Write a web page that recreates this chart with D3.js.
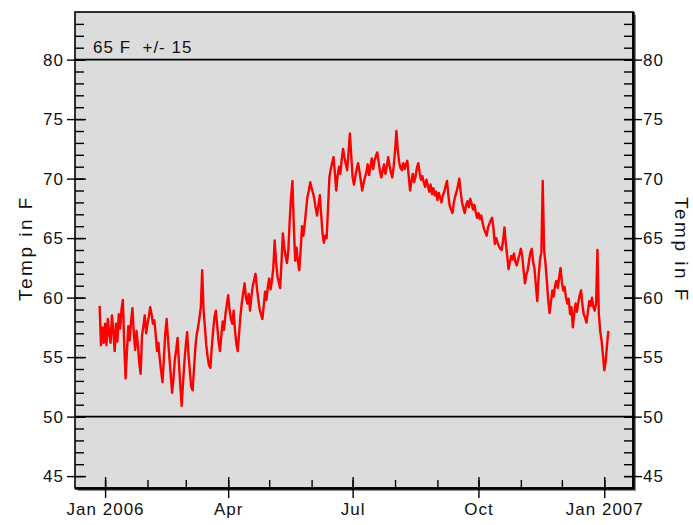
<!DOCTYPE html>
<html>
<head>
<meta charset="utf-8">
<script src="https://cdnjs.cloudflare.com/ajax/libs/d3/7.8.5/d3.min.js"></script>
<style>
  body { margin: 0; background: #fff; }
  text { font-family: "Liberation Sans", Arial, sans-serif; fill: #111; }
</style>
</head>
<body>
<div class="chart"></div>
<script>
// daily temperature readings, starting 28 Dec 2005
var startDate = new Date(2005, 11, 28);
var temps = [
  59.3, 56.0, 57.5, 56.2,
  // Jan
  57.8, 56.0, 58.2, 57.0, 56.2, 58.5, 57.2, 55.5, 57.8, 56.3, 58.6, 57.4, 59.0, 59.8, 56.0, 53.2,
  55.5, 57.6, 56.4, 58.0, 59.1, 57.0, 55.6, 57.2, 56.0, 54.5, 53.6, 56.8, 57.6, 58.5, 57.0,
  // Feb
  57.8, 58.4, 59.2, 58.6, 57.8, 58.1, 56.9, 55.5, 56.2, 54.8, 53.8, 52.9, 54.9, 57.0, 58.2, 56.5,
  55.0, 53.5, 52.0, 53.2, 54.8, 55.6, 56.6, 54.5, 52.6, 50.9, 52.8, 54.6,
  // Mar
  56.0, 57.1, 55.2, 53.8, 52.5, 52.2, 54.0, 55.8, 56.9, 57.5, 58.3, 59.2, 62.3, 59.0, 57.5, 56.0,
  55.0, 54.3, 54.1, 55.8, 57.2, 58.4, 58.9, 57.6, 56.3, 55.5, 56.8, 58.0, 57.3, 58.6, 59.4,
  // Apr
  60.2, 59.0, 58.2, 57.8, 58.9, 57.2, 56.1, 55.5, 57.0, 58.5, 59.6, 60.4, 61.2, 60.0, 59.5, 60.3,
  58.9, 60.1, 61.0, 61.5, 62.0, 60.8, 59.9, 59.0, 58.6, 58.2, 59.3, 60.5, 59.8, 60.9,
  // May
  61.6, 60.7, 61.4, 62.5, 64.8, 63.0, 61.8, 61.3, 60.8, 63.0, 65.4, 64.2, 63.5, 62.9, 64.0, 66.5,
  68.5, 69.8, 66.0, 63.1, 64.2, 63.0, 62.3, 64.0, 66.0, 65.2, 66.2, 67.4, 68.5, 69.0, 69.7,
  // Jun
  69.2, 68.8, 68.3, 67.5, 66.9, 67.8, 68.6, 67.0, 65.4, 64.6, 65.2, 65.0, 67.5, 70.1, 70.8, 71.3,
  71.8, 70.5, 69.0, 70.2, 71.0, 70.4, 71.6, 72.5, 71.8, 71.2, 70.7, 72.2, 73.8, 71.9,
  // Jul
  70.1, 69.5, 70.2, 70.8, 71.3, 70.6, 69.8, 69.0, 69.6, 70.1, 70.5, 71.2, 70.3, 71.0, 71.7, 70.8,
  71.5, 71.9, 72.2, 71.4, 70.6, 70.1, 70.7, 71.2, 70.4, 71.0, 71.8, 71.1, 70.5, 70.1, 71.0,
  // Aug
  72.3, 74.0, 72.4, 71.4, 70.9, 70.7, 71.3, 70.8, 71.2, 71.5, 70.2, 69.0, 69.8, 70.4, 69.7, 70.2,
  70.9, 71.3, 70.5, 69.9, 70.2, 69.7, 69.3, 69.9, 69.4, 68.9, 69.5, 68.7, 69.2, 68.6, 68.9,
  // Sep
  68.2, 68.8, 68.4, 68.0, 68.6, 68.9, 69.4, 69.8, 68.6, 67.7, 67.4, 67.1, 68.0, 68.5, 68.9, 69.4,
  70.0, 68.9, 68.0, 67.5, 67.1, 67.8, 68.1, 67.6, 68.3, 67.9, 67.4, 67.8, 67.2, 66.7,
  // Oct
  67.1, 66.6, 66.9, 66.3, 65.8, 65.5, 65.2, 65.9, 66.2, 66.5, 66.7, 65.8, 64.5, 65.0, 64.6, 64.3,
  64.1, 64.0, 64.8, 65.9, 64.6, 63.5, 62.4, 63.0, 63.5, 63.2, 63.7, 63.0, 62.7, 63.2, 63.6,
  // Nov
  64.1, 63.5, 62.3, 61.2, 61.9, 62.3, 63.1, 63.8, 64.1, 63.0, 62.4, 61.0, 59.7, 61.8, 63.2, 63.8,
  69.8, 64.0, 62.9, 61.4, 59.8, 58.7, 59.6, 60.6, 60.1, 61.0, 61.4, 60.8, 61.7, 62.5,
  // Dec
  61.3, 60.6, 60.9, 60.0, 59.5, 59.9, 58.6, 59.2, 57.5, 58.6, 59.5, 58.8, 59.6, 60.2, 60.6, 59.4,
  58.6, 58.3, 57.9, 58.8, 59.7, 59.3, 60.0, 59.2, 58.9, 59.5, 64.0, 58.7, 57.2, 56.4, 55.2,
  // Jan 2007
  53.9, 54.6, 56.0, 57.2
];

var yMajorTicks = [45, 50, 55, 60, 65, 70, 75, 80];
var limitLines = [50, 80];
var limitLabel = "65 F  +/- 15";
var yLabel = "Temp in F";
var xMajorTicks = [new Date(2006, 0, 1), new Date(2006, 3, 1), new Date(2006, 6, 1), new Date(2006, 9, 1), new Date(2007, 0, 1)];
var xMajorLabels = ["Jan 2006", "Apr", "Jul", "Oct", "Jan 2007"];

var svgWidth = 693;
var svgHeight = 525;
var margin = { top: 12, right: 60, bottom: 37, left: 75 };
var width = svgWidth - margin.left - margin.right;
var height = svgHeight - margin.top - margin.bottom;

var data = temps.map(function(t, i) {
  return { date: d3.timeDay.offset(startDate, i), temp: t };
});

var svg = d3.select(".chart")
  .append("svg")
  .attr("width", svgWidth)
  .attr("height", svgHeight);

var chartGroup = svg.append("g")
  .attr("transform", `translate(${margin.left}, ${margin.top})`);

var x = d3.scaleTime()
  .domain([new Date(2005, 11, 10), new Date(2007, 0, 22)])
  .range([0, width]);

var y = d3.scaleLinear()
  .domain([44, 84])
  .range([height, 0]);

// drop shadow + plot background
chartGroup.append("rect")
  .attr("x", 3).attr("y", 3)
  .attr("width", width).attr("height", height)
  .attr("fill", "#8a8a8a");
chartGroup.append("rect")
  .attr("width", width).attr("height", height)
  .attr("fill", "#dcdcdc");

// limit lines at 50 and 80
chartGroup.selectAll(".limit")
  .data(limitLines)
  .enter()
  .append("line")
  .attr("x1", 0).attr("x2", width)
  .attr("y1", d => y(d)).attr("y2", d => y(d))
  .attr("stroke", "#000")
  .attr("stroke-width", 1.6);

chartGroup.append("text")
  .attr("x", 18)
  .attr("y", y(80) - 7)
  .attr("font-size", 17)
  .attr("letter-spacing", 1)
  .style("white-space", "pre")
  .text(limitLabel);

// temperature line
var line = d3.line()
  .x(d => x(d.date))
  .y(d => y(d.temp));

chartGroup.append("path")
  .datum(data)
  .attr("fill", "none")
  .attr("stroke", "#f00")
  .attr("stroke-width", 2.4)
  .attr("stroke-linejoin", "round")
  .attr("d", line);

// y axes: inward ticks every degree, outward ticks with labels every 5
var yMinor = d3.range(45, 84, 1);

function styleAxis(g) {
  g.select(".domain").remove();
  g.selectAll(".tick line").attr("stroke", "#000").attr("stroke-width", 1.4);
  g.selectAll(".tick text")
    .attr("font-size", 17)
    .attr("letter-spacing", 1)
    .attr("fill", "#111")
    .attr("font-family", "Liberation Sans, Arial, sans-serif");
}

chartGroup.append("g")
  .call(d3.axisLeft(y).tickValues(yMinor).tickSize(-9).tickFormat(""))
  .call(styleAxis);
chartGroup.append("g")
  .call(d3.axisLeft(y).tickValues(yMajorTicks).tickSize(-11).tickFormat(""))
  .call(styleAxis);
chartGroup.append("g")
  .call(d3.axisLeft(y).tickValues(yMajorTicks).tickSize(8).tickPadding(3).tickFormat(d3.format("d")))
  .call(styleAxis);

var rightAxis = chartGroup.append("g")
  .attr("transform", `translate(${width}, 0)`);
rightAxis.append("g")
  .call(d3.axisRight(y).tickValues(yMinor).tickSize(-9).tickFormat(""))
  .call(styleAxis);
rightAxis.append("g")
  .call(d3.axisRight(y).tickValues(yMajorTicks).tickSize(-9).tickFormat(""))
  .call(styleAxis);
rightAxis.append("g")
  .call(d3.axisRight(y).tickValues(yMajorTicks).tickSize(9).tickPadding(1).tickFormat(d3.format("d")))
  .call(styleAxis);

// x axis: months inward, quarters both ways with labels
var xMinor = d3.timeMonth.range(new Date(2006, 0, 1), new Date(2007, 0, 2));

chartGroup.append("g")
  .attr("transform", `translate(0, ${height})`)
  .call(d3.axisBottom(x).tickValues(xMinor).tickSize(-8).tickFormat(""))
  .call(styleAxis);
chartGroup.append("g")
  .attr("transform", `translate(0, ${height})`)
  .call(d3.axisBottom(x).tickValues(xMajorTicks).tickSize(-11).tickFormat(""))
  .call(styleAxis);
chartGroup.append("g")
  .attr("transform", `translate(0, ${height})`)
  .call(d3.axisBottom(x).tickValues(xMajorTicks).tickSize(10).tickPadding(5)
    .tickFormat((d, i) => xMajorLabels[i]))
  .call(styleAxis);

// frame
chartGroup.append("rect")
  .attr("width", width).attr("height", height)
  .attr("fill", "none")
  .attr("stroke", "#000")
  .attr("stroke-width", 1.6);
chartGroup.append("line")
  .attr("x1", width + 0.5).attr("x2", width + 0.5)
  .attr("y1", 0).attr("y2", height + 1)
  .attr("stroke", "#000").attr("stroke-width", 2.5);
chartGroup.append("line")
  .attr("x1", 0).attr("x2", width + 1.5)
  .attr("y1", height + 0.5).attr("y2", height + 0.5)
  .attr("stroke", "#000").attr("stroke-width", 2.5);

// axis titles
svg.append("text")
  .attr("transform", `translate(32, 248) rotate(-90)`)
  .attr("text-anchor", "middle")
  .attr("font-size", 19)
  .attr("letter-spacing", 2.5)
  .text(yLabel);

svg.append("text")
  .attr("transform", `translate(675, 250) rotate(90)`)
  .attr("text-anchor", "middle")
  .attr("font-size", 19)
  .attr("letter-spacing", 2.5)
  .text(yLabel);
</script>
</body>
</html>
